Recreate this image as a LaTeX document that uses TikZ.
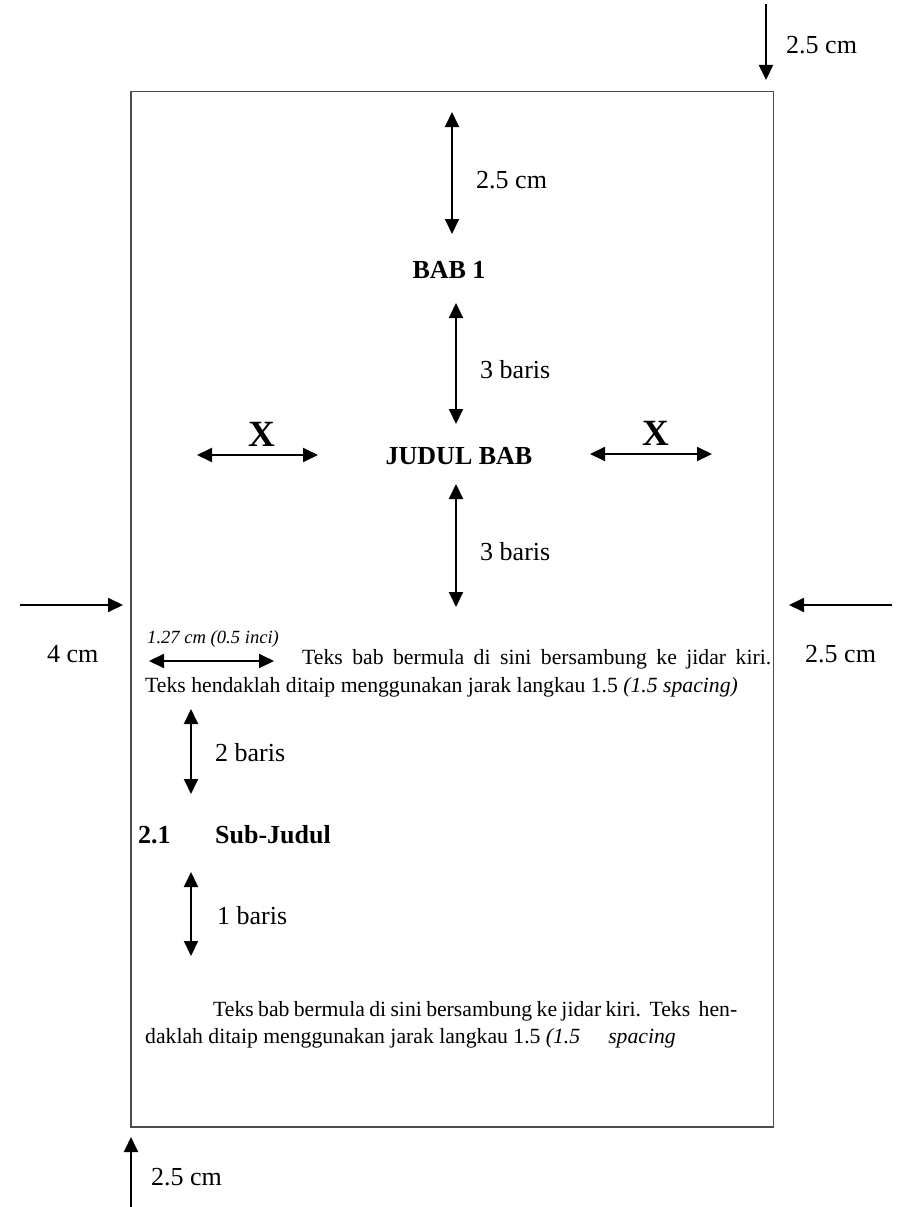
\documentclass[tikz,border=0pt]{standalone}
\usepackage{fontspec}
\setmainfont{Liberation Serif}
\usetikzlibrary{arrows.meta}
\newcommand{\bigsz}{\fontsize{26}{30}\selectfont}
\newcommand{\bodysz}{\fontsize{21.7}{26}\selectfont}
\newcommand{\smallsz}{\fontsize{18.6}{22}\selectfont}
\newcommand{\xsz}{\fontsize{37}{42}\selectfont}
\tikzset{
  tip/.tip={Triangle[length=15pt,width=14pt]},
  dim/.style={line width=1.9pt, -tip},
  dimboth/.style={line width=1.9pt, tip-tip},
  lbl/.style={anchor=base west, inner sep=0pt, font=\bigsz},
  head/.style={anchor=base, inner sep=0pt, font=\bigsz\bfseries},
  body/.style={anchor=base west, inner sep=0pt, font=\bodysz},
  page/.style={draw=black!70, line width=1.3pt}
}
\begin{document}
\begin{tikzpicture}[x=1pt,y=-1pt]
\useasboundingbox (0,0) rectangle (899,1207);
\fill[white] (0,0) rectangle (899,1207);

% page outline
\draw[page] (131,91.5) rectangle (773.5,1127);

% outer margins
\coordinate (tA) at (766,4);   \coordinate (tB) at (766,80);
\draw[dim] (tA) -- (tB);
\node[lbl] (tl) at (786,53) {2.5 cm};

\coordinate (lA) at (20,605);  \coordinate (lB) at (123,605);
\draw[dim] (lA) -- (lB);
\node[lbl] (ll) at (47,662) {4 cm};

\coordinate (rA) at (892,605); \coordinate (rB) at (789,605);
\draw[dim] (rA) -- (rB);
\node[lbl] (rl) at (805,662) {2.5 cm};

\coordinate (bA) at (131,1207); \coordinate (bB) at (131,1137);
\draw[dim] (bA) -- (bB);
\node[lbl] (bl) at (151,1185) {2.5 cm};

% chapter heading block
\coordinate (c1a) at (452,112); \coordinate (c1b) at (452,234);
\draw[dimboth] (c1a) -- (c1b);
\node[lbl] (c1l) at (476,188) {2.5 cm};

\node[head] (bab) at (449,278) {BAB 1};

\coordinate (c2a) at (456,303); \coordinate (c2b) at (456,424);
\draw[dimboth] (c2a) -- (c2b);
\node[lbl] (c2l) at (480,378) {3 baris};

\node[head] (judul) at (459,464) {JUDUL BAB};

\coordinate (xla) at (197,455); \coordinate (xlb) at (318,455);
\draw[dimboth] (xla) -- (xlb);
\node[anchor=base, inner sep=0pt, font=\xsz\bfseries] (xl) at (262,446) {X};

\coordinate (xra) at (590,454); \coordinate (xrb) at (712,454);
\draw[dimboth] (xra) -- (xrb);
\node[anchor=base, inner sep=0pt, font=\xsz\bfseries] (xr) at (656,445) {X};

\coordinate (c3a) at (456,484); \coordinate (c3b) at (456,607);
\draw[dimboth] (c3a) -- (c3b);
\node[lbl] (c3l) at (480,560) {3 baris};

% first paragraph with indent
\node[anchor=base west, inner sep=0pt, font=\smallsz\itshape] (ind) at (147,643) {1.27 cm (0.5 inci)};
\coordinate (ia) at (149,661); \coordinate (ib) at (274,661);
\draw[dimboth] (ia) -- (ib);

\node[body] (p1a) at (302,664) {\makebox[469pt][s]{Teks bab bermula di sini bersambung ke jidar kiri.}};
\node[body] (p1b) at (145,692) {Teks hendaklah ditaip menggunakan jarak langkau 1.5 \textit{(1.5 spacing)}};

\coordinate (s1a) at (191,709); \coordinate (s1b) at (191,794);
\draw[dimboth] (s1a) -- (s1b);
\node[lbl] (s1l) at (215,761) {2 baris};

% sub-heading
\node[anchor=base west, inner sep=0pt, font=\bigsz\bfseries] (secno) at (138,843) {2.1};
\node[anchor=base west, inner sep=0pt, font=\bigsz\bfseries] (sectitle) at (215,843) {Sub-Judul};

\coordinate (s2a) at (191,872); \coordinate (s2b) at (191,956);
\draw[dimboth] (s2a) -- (s2b);
\node[lbl] (s2l) at (217,924) {1 baris};

% second paragraph
\node[body] (p2a) at (213,1016) {\hbox to 524pt{\spaceskip=0.2em\relax Teks bab bermula di sini bersambung ke jidar kiri.\hfill Teks\hfill hen-}};
\node[body] (p2b) at (145,1043) {daklah ditaip menggunakan jarak langkau 1.5 \textit{(1.5}\hspace{28pt}\textit{spacing}};
\end{tikzpicture}
\end{document}
